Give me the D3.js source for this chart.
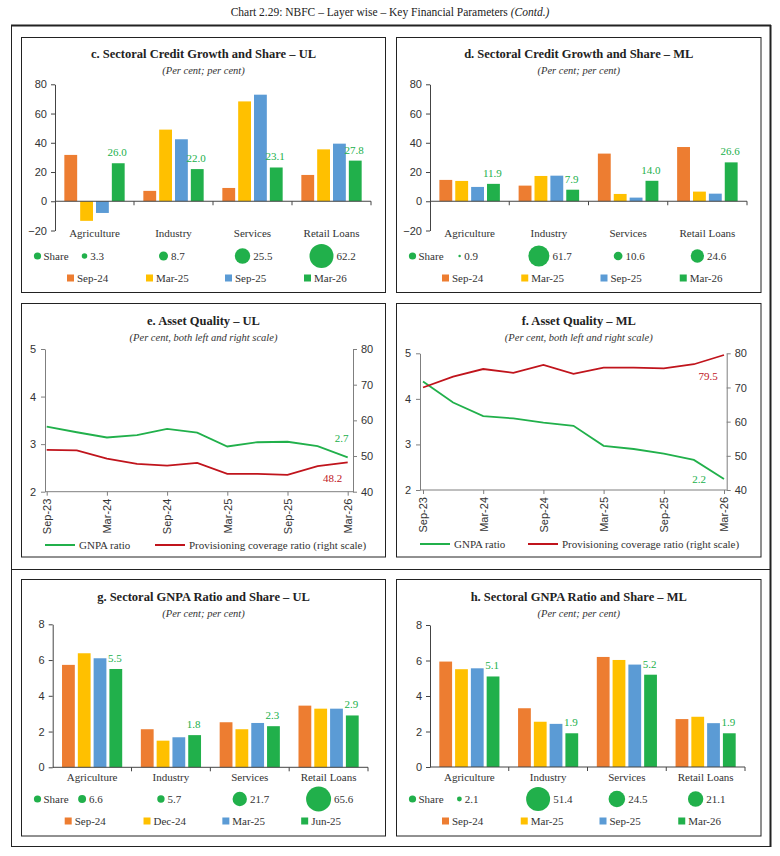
<!DOCTYPE html>
<html><head><meta charset="utf-8">
<script src="https://cdn.jsdelivr.net/npm/d3@7/dist/d3.min.js"></script>
<style>
body{margin:0;background:#fff;}
svg{font-family:"Liberation Serif","DejaVu Serif",serif;}
</style></head>
<body><svg id="chart" width="780" height="856"></svg>
<script>
// ---------- DATA ----------
const categories = ["Agriculture", "Industry", "Services", "Retail Loans"];
const creditSeries = ["Sep-24", "Mar-25", "Sep-25", "Mar-26"];
const creditTicks = [-20, 0, 20, 40, 60, 80];

const ulCreditSep24 = [31.7, 7.1, 9.1, 18.0];
const ulCreditMar25 = [-13.4, 49.0, 68.3, 35.5];
const ulCreditSep25 = [-8.0, 42.4, 72.9, 39.4];
const ulCreditMar26 = [26.0, 22.0, 23.1, 27.8];
const ulCreditShare = [3.3, 8.7, 25.5, 62.2];

const mlCreditSep24 = [14.6, 10.7, 32.6, 37.1];
const mlCreditMar25 = [13.9, 17.3, 5.0, 6.6];
const mlCreditSep25 = [9.8, 17.5, 2.5, 5.2];
const mlCreditMar26 = [11.9, 7.9, 14.0, 26.6];
const mlCreditShare = [0.9, 61.7, 10.6, 24.6];

const quarters = ["Sep-23","Dec-23","Mar-24","Jun-24","Sep-24","Dec-24","Mar-25","Jun-25","Sep-25","Dec-25","Mar-26"];
const quarterTicks = ["Sep-23","Mar-24","Sep-24","Mar-25","Sep-25","Mar-26"];
const gnpaTicks = [2, 3, 4, 5];
const pcrTicks = [40, 50, 60, 70, 80];
const lineLegend = ["GNPA ratio", "Provisioning coverage ratio (right scale)"];

const ulGnpaRatio = [3.37, 3.25, 3.14, 3.19, 3.32, 3.24, 2.95, 3.04, 3.05, 2.96, 2.72];
const ulPcr = [51.7, 51.6, 49.3, 47.8, 47.3, 48.1, 45.0, 45.0, 44.7, 47.2, 48.2];
const mlGnpaRatio = [4.38, 3.92, 3.62, 3.57, 3.48, 3.41, 2.97, 2.90, 2.80, 2.66, 2.24];
const mlPcr = [70.0, 73.2, 75.4, 74.3, 76.6, 74.0, 75.8, 75.8, 75.6, 76.8, 79.5];

const ulGnpaSeries = ["Sep-24", "Dec-24", "Mar-25", "Jun-25"];
const mlGnpaSeries = ["Sep-24", "Mar-25", "Sep-25", "Mar-26"];
const gnpaBarTicks = [0, 2, 4, 6, 8];

const ulSecGnpaSep24 = [5.73, 2.13, 2.52, 3.45];
const ulSecGnpaDec24 = [6.38, 1.49, 2.13, 3.28];
const ulSecGnpaMar25 = [6.10, 1.68, 2.48, 3.28];
const ulSecGnpaJun25 = [5.5, 1.8, 2.3, 2.9];
const ulSecGnpaShare = [6.6, 5.7, 21.7, 65.6];

const mlSecGnpaSep24 = [5.94, 3.31, 6.20, 2.70];
const mlSecGnpaMar25 = [5.51, 2.55, 6.03, 2.83];
const mlSecGnpaSep25 = [5.56, 2.43, 5.77, 2.47];
const mlSecGnpaMar26 = [5.1, 1.9, 5.2, 1.9];
const mlSecGnpaShare = [2.1, 51.4, 24.5, 21.1];

// ---------- STYLE ----------
const barColors = ["#ED7D31", "#FFC000", "#5B9BD5", "#21B04B"];
const green = "#21B04B", red = "#C0141C";
const svg = d3.select("#chart");
const ink = "#222";

// frames
svg.append("text").attr("x", 390).attr("y", 16).attr("text-anchor", "middle")
  .attr("font-size", 11.5).attr("fill", ink)
  .call(t => { t.append("tspan").text("Chart 2.29: NBFC – Layer wise – Key Financial Parameters ");
               t.append("tspan").attr("font-style", "italic").text("(Contd.)"); });
svg.append("rect").attr("x", 11.5).attr("y", 25.5).attr("width", 759).attr("height", 821)
  .attr("fill", "none").attr("stroke", ink).attr("stroke-width", 1);
svg.append("line").attr("x1", 11).attr("x2", 771).attr("y1", 25.5).attr("y2", 25.5).attr("stroke", ink).attr("stroke-width", 2);
svg.append("line").attr("x1", 770.5).attr("x2", 770.5).attr("y1", 25).attr("y2", 847).attr("stroke", ink).attr("stroke-width", 2);
svg.append("line").attr("x1", 11).attr("x2", 771).attr("y1", 569.5).attr("y2", 569.5).attr("stroke", ink);

function box(x1, y1, x2, y2) {
  svg.append("rect").attr("x", x1).attr("y", y1).attr("width", x2 - x1).attr("height", y2 - y1)
    .attr("fill", "none").attr("stroke", ink).attr("stroke-width", 1);
}
function titles(cx, ty, title, sub) {
  svg.append("text").attr("x", cx).attr("y", ty + 4).attr("text-anchor", "middle")
    .attr("font-size", 12.5).attr("font-weight", "bold").attr("fill", ink).text(title);
  svg.append("text").attr("x", cx).attr("y", ty + 20).attr("text-anchor", "middle")
    .attr("font-size", 10.5).attr("font-style", "italic").attr("fill", "#333").text(sub);
}

function barPanel(cfg) {
  box(cfg.bx1, cfg.by1, cfg.bx2, cfg.by2);
  titles((cfg.bx1 + cfg.bx2) / 2, cfg.titleY, cfg.title, cfg.sub);
  const x0 = d3.scaleBand().domain(categories).range([cfg.axisX, cfg.xEnd]).padding(0);
  const x1 = d3.scaleBand().domain(cfg.series).range([0, x0.bandwidth()]).paddingInner(0.19).paddingOuter(0.59);
  const y = d3.scaleLinear().domain(cfg.yDomain).range(cfg.yRange);
  const g = svg.append("g");
  // bars
  cfg.values.forEach((vals, si) => {
    g.selectAll(null).data(vals).enter().append("rect")
      .attr("x", (d, i) => x0(categories[i]) + x1(cfg.series[si]))
      .attr("width", x1.bandwidth())
      .attr("y", d => y(Math.max(0, d)))
      .attr("height", d => Math.abs(y(d) - y(0)))
      .attr("fill", barColors[si]);
  });
  // labels on last series
  const last = cfg.values[cfg.values.length - 1];
  g.selectAll(null).data(last).enter().append("text")
    .attr("x", (d, i) => x0(categories[i]) + x1(cfg.series[3]) + x1.bandwidth() / 2 - 1)
    .attr("y", d => y(d) - 7)
    .attr("text-anchor", "middle").attr("font-size", 11).attr("fill", green)
    .text(d => d.toFixed(1));
  // y axis
  const ya = g.append("g").attr("transform", `translate(${cfg.axisX},0)`)
    .call(d3.axisLeft(y).tickValues(cfg.yTicks).tickSize(4).tickSizeOuter(0).tickPadding(4));
  ya.selectAll("text").attr("font-size", 11).attr("fill", "#333").style("font-family", "inherit");
  ya.selectAll("line,path").attr("stroke", "#444");
  // x axis line at zero
  g.append("line").attr("x1", cfg.axisX).attr("x2", cfg.xEnd).attr("y1", y(0)).attr("y2", y(0)).attr("stroke", "#444");
  g.selectAll(null).data(categories).enter().append("line")
    .attr("x1", d => x0(d) + x0.bandwidth()).attr("x2", d => x0(d) + x0.bandwidth())
    .attr("y1", y(0)).attr("y2", y(0) + 4).attr("stroke", "#444");
  // category labels
  g.selectAll(null).data(categories).enter().append("text")
    .attr("x", d => x0(d) + x0.bandwidth() / 2).attr("y", cfg.catY + 4)
    .attr("text-anchor", "middle").attr("font-size", 11).attr("fill", "#333").text(d => d);
  // share bubbles
  const r = d3.scaleSqrt().domain([0, d3.max(cfg.share)]).range([0, cfg.rMax]);
  g.append("circle").attr("cx", cfg.bx1 + 16).attr("cy", cfg.shareY).attr("r", 3.6).attr("fill", green);
  g.append("text").attr("x", cfg.bx1 + 22).attr("y", cfg.shareY + 4).attr("font-size", 11).attr("fill", "#333").text("Share");
  cfg.share.forEach((s, i) => {
    const cx = x0(categories[i]) + x0.bandwidth() / 2 - 10;
    const rr = r(s);
    g.append("circle").attr("cx", cx).attr("cy", cfg.shareY).attr("r", rr).attr("fill", green);
    g.append("text").attr("x", cx + Math.max(rr, 1.5) + 3).attr("y", cfg.shareY + 4)
      .attr("font-size", 11).attr("fill", "#333").text(s.toFixed(1));
  });
  // series legend
  cfg.series.forEach((s, i) => {
    const lx = x0(categories[i]) + 12;
    g.append("rect").attr("x", lx).attr("y", cfg.legY - 3.5).attr("width", 7).attr("height", 7).attr("fill", barColors[i]);
    g.append("text").attr("x", lx + 10).attr("y", cfg.legY + 4).attr("font-size", 11).attr("fill", "#333").text(s);
  });
}

function linePanel(cfg) {
  box(cfg.bx1, cfg.by1, cfg.bx2, cfg.by2);
  titles((cfg.bx1 + cfg.bx2) / 2, cfg.titleY, cfg.title, cfg.sub);
  const x = d3.scalePoint().domain(quarters).range([cfg.xFirst, cfg.xLast]);
  const yl = d3.scaleLinear().domain([2, 5]).range([cfg.yBottom, cfg.yTop]);
  const yr = d3.scaleLinear().domain([40, 80]).range([cfg.yBottom, cfg.yTop]);
  const g = svg.append("g");
  const axc = "#7f7f7f";
  const la = g.append("g").attr("transform", `translate(${cfg.axisL},0)`)
    .call(d3.axisLeft(yl).tickValues(gnpaTicks).tickSize(4).tickSizeOuter(0).tickPadding(5).tickFormat(d3.format("d")));
  const ra = g.append("g").attr("transform", `translate(${cfg.axisR},0)`)
    .call(d3.axisRight(yr).tickValues(pcrTicks).tickSize(4).tickSizeOuter(0).tickPadding(4));
  const xa = g.append("g").attr("transform", `translate(0,${cfg.yBottom})`)
    .call(d3.axisBottom(x).tickValues(quarterTicks).tickSize(4).tickSizeOuter(0).tickPadding(4));
  xa.select(".domain").attr("d", `M${cfg.axisL},0H${cfg.axisR}`);
  xa.selectAll("text").attr("transform", "rotate(-90)").attr("text-anchor", "end")
    .attr("x", -7).attr("y", 0).attr("dy", "0.35em");
  [la, ra, xa].forEach(a => {
    a.selectAll("line,path").attr("stroke", axc);
    a.selectAll("text").attr("font-size", 11).attr("fill", "#333").style("font-family", "inherit");
  });
  const lineL = d3.line().x((d, i) => x(quarters[i])).y(d => yl(d));
  const lineR = d3.line().x((d, i) => x(quarters[i])).y(d => yr(d));
  g.append("path").attr("d", lineL(cfg.gnpa)).attr("fill", "none").attr("stroke", green).attr("stroke-width", 1.8);
  g.append("path").attr("d", lineR(cfg.pcr)).attr("fill", "none").attr("stroke", red).attr("stroke-width", 1.8);
  const n = quarters.length - 1;
  g.append("text").attr("x", x(quarters[n]) + cfg.gLab[0]).attr("y", yl(cfg.gnpa[n]) + cfg.gLab[1])
    .attr("text-anchor", "middle").attr("font-size", 11).attr("fill", green).text(cfg.gnpa[n].toFixed(1));
  g.append("text").attr("x", x(quarters[n]) + cfg.pLab[0]).attr("y", yr(cfg.pcr[n]) + cfg.pLab[1])
    .attr("text-anchor", "middle").attr("font-size", 11).attr("fill", red).text(cfg.pcr[n].toFixed(1));
  // legend
  const lc = [green, red];
  lineLegend.forEach((t, i) => {
    const lx = cfg.legX[i];
    g.append("line").attr("x1", lx).attr("x2", lx + 30).attr("y1", cfg.legY).attr("y2", cfg.legY)
      .attr("stroke", lc[i]).attr("stroke-width", 2);
    g.append("text").attr("x", lx + 34).attr("y", cfg.legY + 4).attr("font-size", 11).attr("fill", "#333").text(t);
  });
}

barPanel({ bx1: 21.5, by1: 37.5, bx2: 385.5, by2: 292.5, titleY: 54,
  title: "c. Sectoral Credit Growth and Share – UL", sub: "(Per cent; per cent)",
  axisX: 55, xEnd: 371, yDomain: [-20, 80], yRange: [230.5, 84.3], yTicks: creditTicks,
  series: creditSeries, values: [ulCreditSep24, ulCreditMar25, ulCreditSep25, ulCreditMar26],
  share: ulCreditShare, rMax: 12, catY: 233, shareY: 256, legY: 278 });

barPanel({ bx1: 396.5, by1: 37.5, bx2: 761, by2: 292.5, titleY: 54,
  title: "d. Sectoral Credit Growth and Share – ML", sub: "(Per cent; per cent)",
  axisX: 430, xEnd: 747, yDomain: [-20, 80], yRange: [230.5, 84.3], yTicks: creditTicks,
  series: creditSeries, values: [mlCreditSep24, mlCreditMar25, mlCreditSep25, mlCreditMar26],
  share: mlCreditShare, rMax: 10.5, catY: 233, shareY: 256, legY: 278 });

linePanel({ bx1: 21.5, by1: 303.5, bx2: 385.5, by2: 557, titleY: 321,
  title: "e. Asset Quality – UL", sub: "(Per cent, both left and right scale)",
  axisL: 45, axisR: 353, xFirst: 46.7, xLast: 347.7, yTop: 349, yBottom: 491.7,
  gnpa: ulGnpaRatio, pcr: ulPcr, gLab: [-6, -15], pLab: [-15, 20], legX: [45, 155], legY: 545 });

linePanel({ bx1: 396.5, by1: 303.5, bx2: 761, by2: 557, titleY: 321,
  title: "f. Asset Quality – ML", sub: "(Per cent, both left and right scale)",
  axisL: 420, axisR: 726.7, xFirst: 423, xLast: 724, yTop: 353.3, yBottom: 490,
  gnpa: mlGnpaRatio, pcr: mlPcr, gLab: [-25, 4], pLab: [-16, 25], legX: [420, 528], legY: 544 });

barPanel({ bx1: 21.5, by1: 579.5, bx2: 385.5, by2: 836, titleY: 597,
  title: "g. Sectoral GNPA Ratio and Share – UL", sub: "(Per cent; per cent)",
  axisX: 52.7, xEnd: 368, yDomain: [0, 8], yRange: [767.3, 624.3], yTicks: gnpaBarTicks,
  series: ulGnpaSeries, values: [ulSecGnpaSep24, ulSecGnpaDec24, ulSecGnpaMar25, ulSecGnpaJun25],
  share: ulSecGnpaShare, rMax: 12.5, catY: 777, shareY: 799, legY: 821 });

barPanel({ bx1: 396.5, by1: 579.5, bx2: 761, by2: 836, titleY: 597,
  title: "h. Sectoral GNPA Ratio and Share – ML", sub: "(Per cent; per cent)",
  axisX: 430, xEnd: 745, yDomain: [0, 8], yRange: [767, 625], yTicks: gnpaBarTicks,
  series: mlGnpaSeries, values: [mlSecGnpaSep24, mlSecGnpaMar25, mlSecGnpaSep25, mlSecGnpaMar26],
  share: mlSecGnpaShare, rMax: 12, catY: 777, shareY: 799, legY: 821 });
</script></body></html>
